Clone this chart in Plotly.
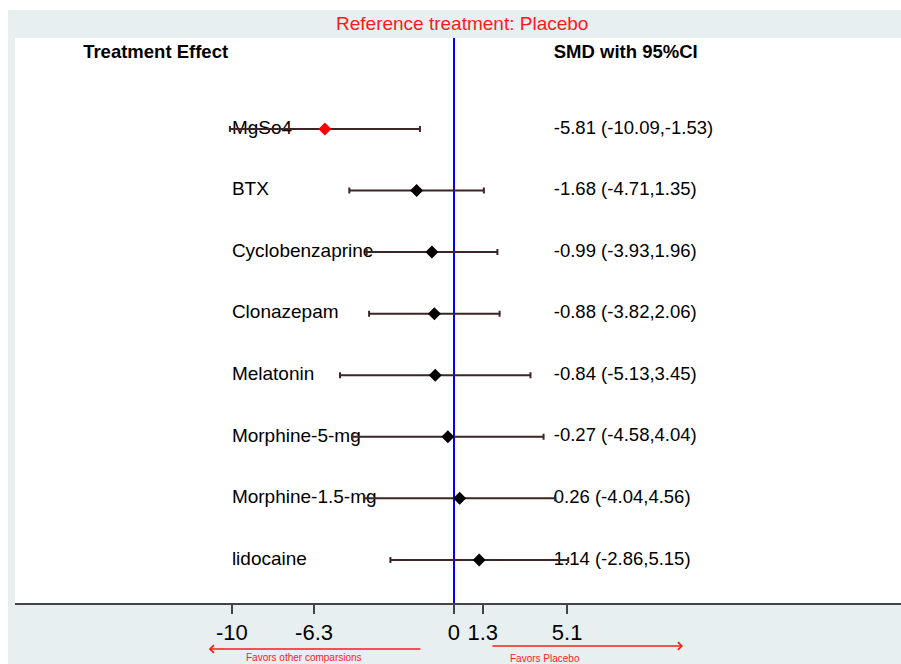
import plotly.graph_objects as go

# ---------------- data ----------------
treatments = ["MgSo4", "BTX", "Cyclobenzaprine", "Clonazepam", "Melatonin",
              "Morphine-5-mg", "Morphine-1.5-mg", "lidocaine"]
smd = [-5.81, -1.68, -0.99, -0.88, -0.84, -0.27, 0.26, 1.14]
lower = [-10.09, -4.71, -3.93, -3.82, -5.13, -4.58, -4.04, -2.86]
upper = [-1.53, 1.35, 1.96, 2.06, 3.45, 4.04, 4.56, 5.15]
highlight = ["MgSo4"]

tick_vals = [-10, -6.3, 0, 1.3, 5.1]
tick_text = ["-10", "-6.3", "0", "1.3", "5.1"]

reference = "Placebo"
header_left = "Treatment Effect"
header_right = "SMD with 95%CI"
favors_left = "Favors other comparsions"
favors_right = "Favors Placebo"

# ---------------- derived ----------------
n = len(treatments)
ypos = list(range(n, 0, -1))
ci_text = [f"{m:.2f} ({lo:.2f},{hi:.2f})" for m, lo, hi in zip(smd, lower, upper)]
err_plus = [hi - m for m, hi in zip(smd, upper)]
err_minus = [m - lo for m, lo in zip(smd, lower)]
colors = ["#FF0000" if t in highlight else "#000000" for t in treatments]

FONT = "Arial, Liberation Sans, sans-serif"
GREY = "#E8EFF1"
RED = "#FF1A1A"

LABEL_X = -10.0
CI_X = 4.5
HEADER_Y = n + 1.23

fig = go.Figure()

# text columns (drawn first so CI lines pass over them)
fig.add_trace(go.Scatter(
    x=[LABEL_X] * n, y=ypos, mode="text", text=treatments,
    textposition="middle right", textfont=dict(family=FONT, size=19, color="#000"),
    hoverinfo="skip", showlegend=False, cliponaxis=False))
fig.add_trace(go.Scatter(
    x=[CI_X] * n, y=ypos, mode="text", text=ci_text,
    textposition="middle right", textfont=dict(family=FONT, size=18.5, color="#000"),
    hoverinfo="skip", showlegend=False, cliponaxis=False))
fig.add_trace(go.Scatter(
    x=[-16.7, CI_X], y=[HEADER_Y, HEADER_Y], mode="text",
    text=[f"<b>{header_left}</b>", f"<b>{header_right}</b>"],
    textposition="middle right", textfont=dict(family=FONT, size=18.5, color="#000"),
    hoverinfo="skip", showlegend=False, cliponaxis=False))

# point estimates with CIs
fig.add_trace(go.Scatter(
    x=smd, y=ypos, mode="markers",
    marker=dict(symbol="diamond", size=10, color=colors, line=dict(width=0)),
    error_x=dict(type="data", symmetric=False, array=err_plus, arrayminus=err_minus,
                 color="#3a2626", thickness=2, width=3),
    showlegend=False))

fig.update_xaxes(
    range=[-19.77, 20.14], tickmode="array", tickvals=tick_vals, ticktext=tick_text,
    showgrid=False, zeroline=True, zerolinecolor="#0000FF", zerolinewidth=1.5,
    showline=True, linecolor="#444444", linewidth=2, mirror=False,
    ticks="outside", ticklen=9, tickwidth=2, tickcolor="#444444",
    tickfont=dict(family=FONT, size=22, color="#000"), fixedrange=True)
fig.update_yaxes(range=[0.30, 9.478], visible=False, fixedrange=True)

annotations = [
    dict(text=f"Reference treatment: {reference}", xref="paper", yref="paper",
         x=0.504, y=1.0248, xanchor="center", yanchor="middle", showarrow=False,
         font=dict(family=FONT, size=19, color=RED)),
    # arrows
    dict(text="", xref="x", yref="paper", x=-11.04, y=-0.0814,
         axref="x", ax=-1.44, ayref="pixel", ay=0, showarrow=True,
         arrowhead=4, arrowsize=1, arrowwidth=1.5, arrowcolor=RED, standoff=0),
    dict(text="", xref="x", yref="paper", x=10.32, y=-0.0761,
         axref="x", ax=1.67, ayref="pixel", ay=0, showarrow=True,
         arrowhead=4, arrowsize=1, arrowwidth=1.5, arrowcolor=RED, standoff=0),
    dict(text=favors_left, xref="x", yref="paper", x=-6.76, y=-0.0956,
         xanchor="center", yanchor="middle", showarrow=False,
         font=dict(family=FONT, size=10, color=RED)),
    dict(text=favors_right, xref="x", yref="paper", x=4.10, y=-0.0991,
         xanchor="center", yanchor="middle", showarrow=False,
         font=dict(family=FONT, size=10, color=RED)),
]

fig.update_layout(
    width=893, height=654, autosize=False,
    margin=dict(l=7, r=0, t=28, b=61, pad=0),
    paper_bgcolor=GREY, plot_bgcolor="white",
    annotations=annotations,
    showlegend=False, font=dict(family=FONT),
)

fig.write_html(
    "out.html",
    config={"displayModeBar": False, "responsive": False},
    post_script="document.documentElement.style.overflow='hidden';"
                "document.body.style.margin='10px 0 0 8px';",
)
